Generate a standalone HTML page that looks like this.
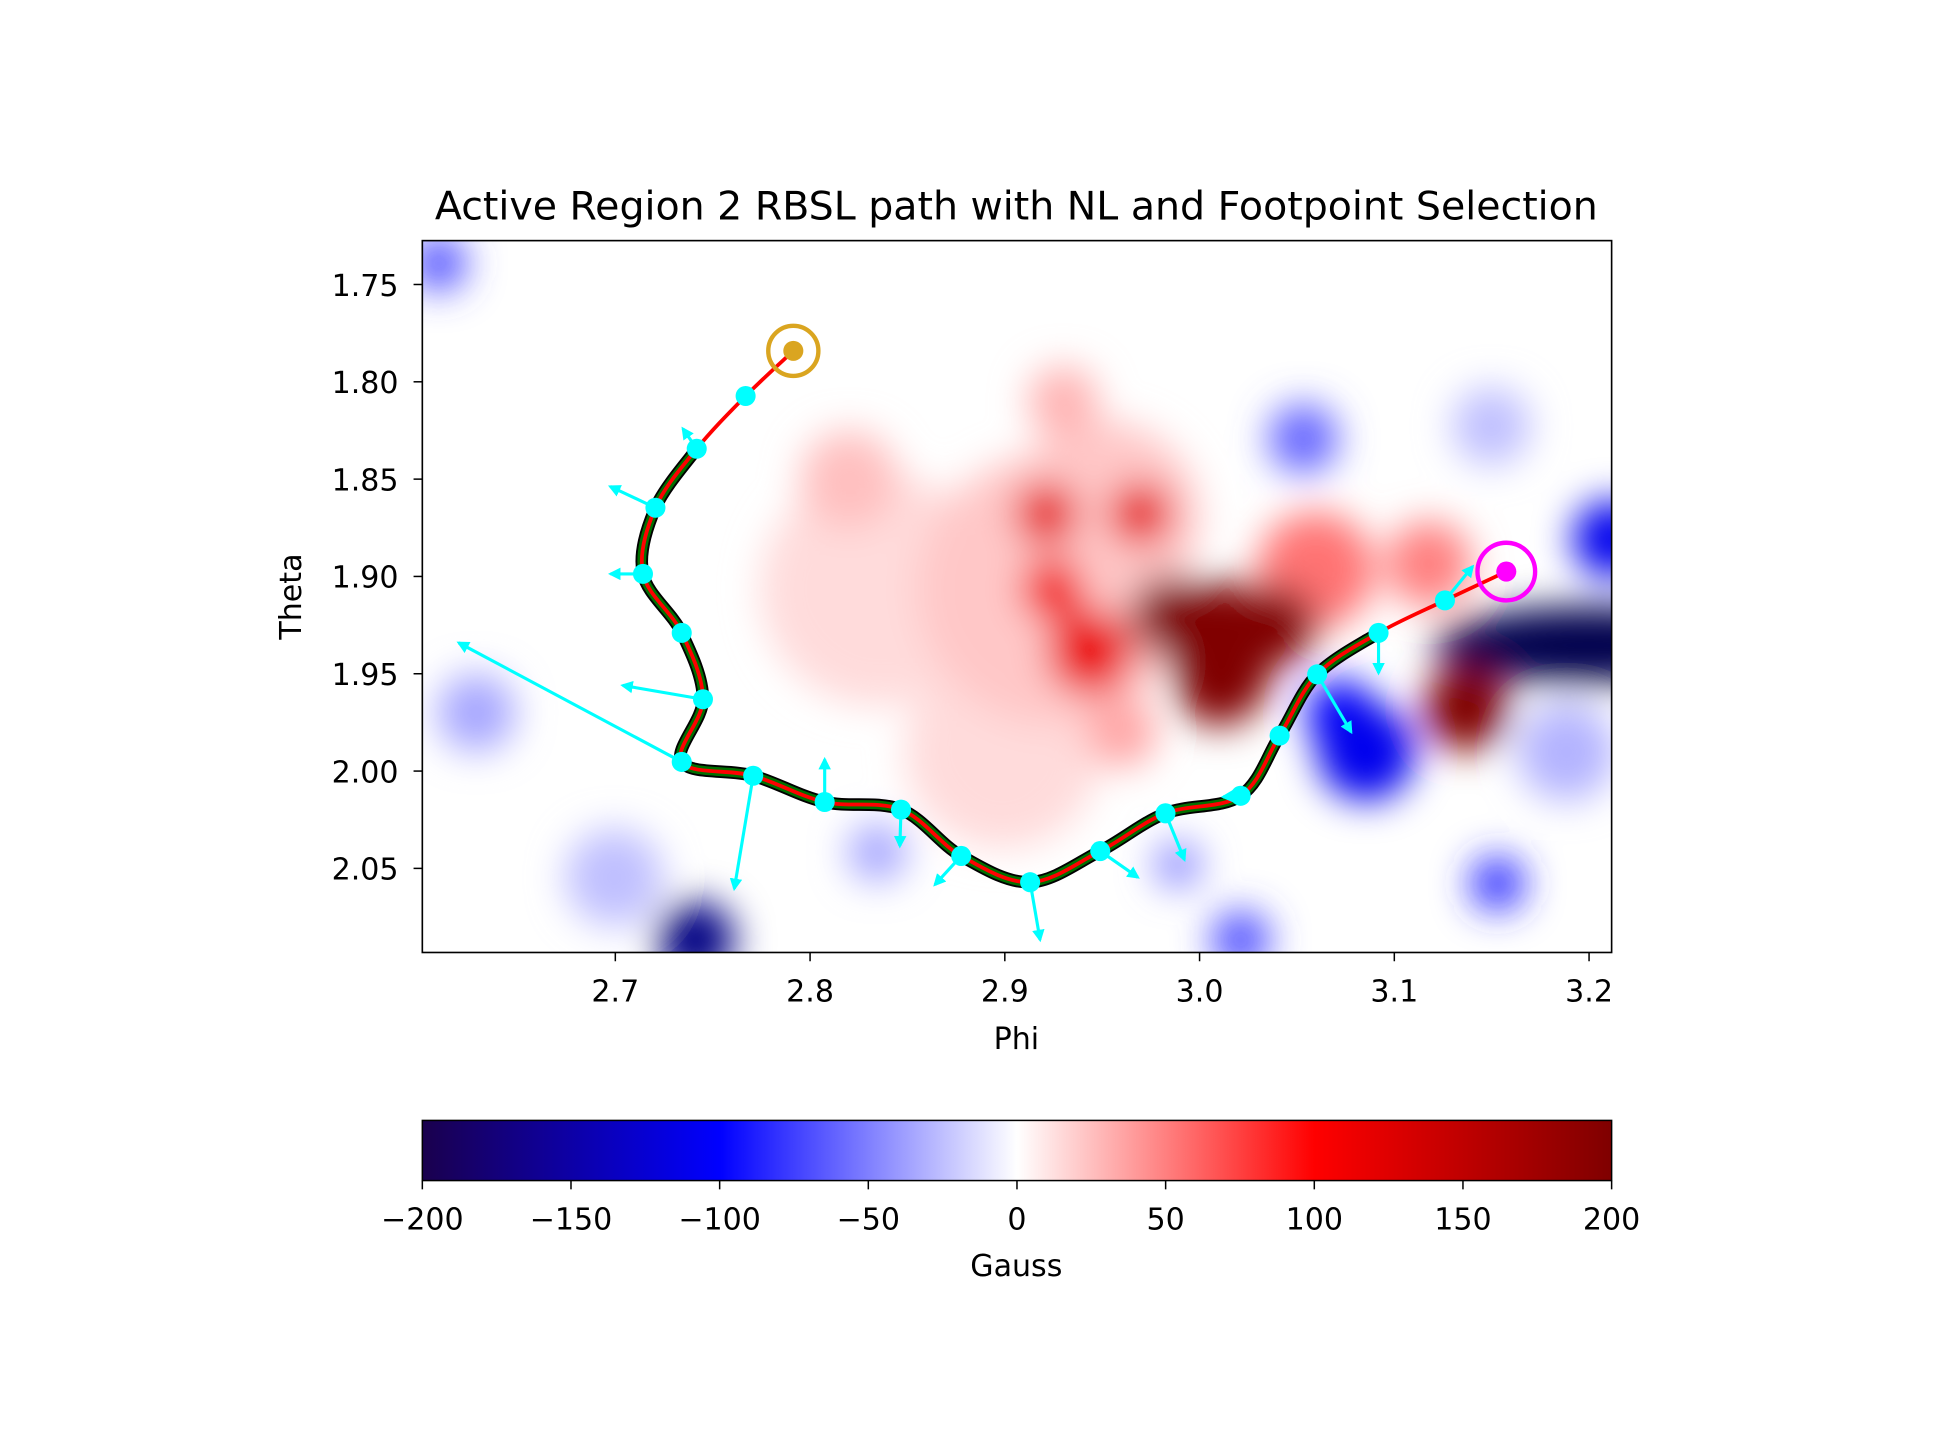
<!DOCTYPE html>
<html><head><meta charset="utf-8"><style>
html,body{margin:0;padding:0;background:#fff;}
svg{display:block;font-family:"DejaVu Sans","Liberation Sans",sans-serif;}
</style></head><body>
<svg id="fig" width="1955" height="1440" viewBox="0 0 1560 1149" preserveAspectRatio="none" xmlns="http://www.w3.org/2000/svg">
<defs>
<filter id="blur" x="-50%" y="-50%" width="200%" height="200%"><feGaussianBlur stdDeviation="15"/></filter>
<clipPath id="axclip"><rect x="337" y="192" width="949" height="568"/></clipPath>
<linearGradient id="cbgrad" x1="0" x2="1" y1="0" y2="0">
<stop offset="0" stop-color="#1a004d"/><stop offset="0.25" stop-color="#0000ff"/>
<stop offset="0.5" stop-color="#ffffff"/><stop offset="0.75" stop-color="#ff0000"/><stop offset="1" stop-color="#7f0000"/>
</linearGradient>
<marker id="ah" viewBox="0 0 10 10" refX="8" refY="5" markerWidth="4" markerHeight="4" orient="auto"><path d="M0,0 L10,5 L0,10 z" fill="#00ffff"/></marker>
</defs>
<rect width="1560" height="1149" fill="#fff"/>
<g id="heat" clip-path="url(#axclip)"><rect x="337" y="192" width="949" height="568" fill="#fff"/><g id="blobs" filter="url(#blur)"></g></g>
<g id="paths" clip-path="url(#axclip)"></g>
<rect x="337" y="192" width="949" height="568" fill="none" stroke="#000" stroke-width="1.3"/>
<g id="ticks"></g>
<text x="811" y="175" font-size="31.5" text-anchor="middle">Active Region 2 RBSL path with NL and Footpoint Selection</text>
<text x="811" y="837" font-size="24" text-anchor="middle">Phi</text>
<text x="240" y="476" font-size="24" text-anchor="middle" transform="rotate(-90 240 476)">Theta</text>
<rect x="337" y="894" width="949" height="48" fill="url(#cbgrad)" stroke="#000" stroke-width="1.2"/>
<g id="cbticks"></g>
<text x="811" y="1018" font-size="24" text-anchor="middle">Gauss</text>
</svg>
<script>
const NS="http://www.w3.org/2000/svg";
// data
const pathPhi=[2.7914,2.7669,2.7418,2.7206,2.7142,2.7341,2.7450,2.7341,2.7708,2.8075,2.8467,2.8776,2.9130,2.9490,2.9825,3.0211,3.0411,3.0604,3.0919,3.1260,3.1575];
const pathTheta=[1.7841,1.8073,1.8344,1.8647,1.8987,1.9290,1.9631,1.9953,2.0024,2.0159,2.0198,2.0436,2.0571,2.0411,2.0217,2.0127,1.9818,1.9503,1.9290,1.9123,1.8975];
const arrowU=[0,-7.1,-23.2,-16.7,0,-41.2,-114.5,-9.7,0,-0.6,-13.5,5.1,19.3,9.7,-9.0,0,17.4,0,14.2]; // x1e-3
const arrowV=[0,-10.3,-10.9,0,0,-7.1,-61.2,58.0,-21.9,18.7,14.8,29.6,13.5,23.8,0.6,0,29.6,20.6,-17.4];
const blobPhi=[2.8345,2.9246,2.8988,2.95,3.0115,3.0115,2.9214,2.9696,2.9246,2.9439,3.0597,3.1176,2.82,2.93,3.1369,3.2000,3.2116,3.0855,3.0726,3.0533,3.1530,2.7412,2.6286,2.6093,2.6994,3.0211,2.9889,2.8345,3.1884,3.1498,2.96,2.9850,3.0400,3.0100];
const blobTheta=[1.9065,1.9065,1.9900,1.8700,1.9322,1.9500,1.8678,1.8678,1.9065,1.9387,1.8968,1.8936,1.8500,1.8100,1.9676,1.9354,1.8807,1.9902,1.9709,1.8292,2.0578,2.0868,1.9700,1.7391,2.0546,2.0868,2.0481,2.0417,1.9902,1.8228,1.9800,1.9200,1.9250,1.9550];
const blobVal=[14,22,14,22,240,230,120,120,110,115,55,50,25,30,210,-240,-110,-110,-100,-60,-80,-170,-35,-70,-25,-70,-45,-35,-30,-25,35,220,220,230];
const blobR=[0.06,0.07,0.05,0.05,0.03,0.025,0.016,0.016,0.016,0.022,0.03,0.022,0.025,0.018,0.022,0.02,0.02,0.025,0.018,0.018,0.014,0.02,0.02,0.014,0.025,0.015,0.012,0.015,0.025,0.02,0.018,0.02,0.02,0.022];
const xTicks=[2.7,2.8,2.9,3.0,3.1,3.2];
const yTicks=[1.75,1.80,1.85,1.90,1.95,2.00,2.05];
const cbTicks=[-200,-150,-100,-50,0,50,100,150,200];
// axes
const X=p=>491+(p-2.7)*1554;
const Y=t=>227+(t-1.75)*1553;
const CB=v=>337+(v+200)/400*949;
function cmap(v){let t=Math.max(-1,Math.min(1,v/200));let r,g,b;
 if(t<-0.5){const f=(t+1)/0.5;r=0;g=0;b=0.3+0.7*f;}
 else if(t<0){const f=(t+0.5)/0.5;r=f;g=f;b=1;}
 else if(t<0.5){const f=t/0.5;r=1;g=1-f;b=1-f;}
 else{const f=(t-0.5)/0.5;r=1-0.5*f;g=0;b=0;}
 return `rgb(${Math.round(r*255)},${Math.round(g*255)},${Math.round(b*255)})`;}
function el(tag,attrs,parent){const e=document.createElementNS(NS,tag);for(const k in attrs)e.setAttribute(k,attrs[k]);parent.appendChild(e);return e;}
const blobs=document.getElementById('blobs');
const order=blobVal.map((v,i)=>i).sort((a,b)=>Math.abs(blobVal[a])-Math.abs(blobVal[b]));
order.splice(order.indexOf(14),1);order.push(14);
order.forEach(i=>{const c=el('ellipse',{cx:X(blobPhi[i]),cy:Y(blobTheta[i]),rx:blobR[i]*1554*(i===15?4:1),ry:blobR[i]*1553,fill:cmap(blobVal[i])},blobs);
 
 });
// smooth path
function smooth(idx){const pts=idx.map(i=>[X(pathPhi[i]),Y(pathTheta[i])]);let d=`M${pts[0][0]},${pts[0][1]}`;
 for(let i=0;i<pts.length-1;i++){const p0=pts[Math.max(0,i-1)],p1=pts[i],p2=pts[i+1],p3=pts[Math.min(pts.length-1,i+2)];
  d+=` C${p1[0]+(p2[0]-p0[0])/6},${p1[1]+(p2[1]-p0[1])/6} ${p2[0]-(p3[0]-p1[0])/6},${p2[1]-(p3[1]-p1[1])/6} ${p2[0]},${p2[1]}`;}return d;}
const g=document.getElementById('paths');
const all=pathPhi.map((v,i)=>i);
const nl=all.slice(2,19);
const nlD=smooth(nl);
let p=el('path',{d:nlD,fill:'none',stroke:'#000',"stroke-width":10,"stroke-linecap":"butt"},g);

p=el('path',{d:nlD,fill:'none',stroke:'#007000',"stroke-width":7},g);

p=el('path',{d:smooth(all),fill:'none',stroke:'#ff0000',"stroke-width":3},g);

// arrows
for(let i=1;i<pathPhi.length-1;i++){const k=i-1;const u=arrowU[k]/1000,v=arrowV[k]/1000;if(u===0&&v===0)continue;
 const a=el('line',{x1:X(pathPhi[i]),y1:Y(pathTheta[i]),x2:X(pathPhi[i]+u),y2:Y(pathTheta[i]+v),stroke:'#00ffff',"stroke-width":2.5,"marker-end":"url(#ah)"},g);
 }
for(let i=1;i<pathPhi.length-1;i++){const c=el('circle',{cx:X(pathPhi[i]),cy:Y(pathTheta[i]),r:8,fill:'#00ffff'},g);
 }
const n=pathPhi.length-1;
let c=el('circle',{cx:X(pathPhi[0]),cy:Y(pathTheta[0]),r:20,fill:'none',stroke:'#daa520',"stroke-width":3.5},g);

c=el('circle',{cx:X(pathPhi[0]),cy:Y(pathTheta[0]),r:8,fill:'#daa520'},g);

c=el('circle',{cx:X(pathPhi[n]),cy:Y(pathTheta[n]),r:23,fill:'none',stroke:'#ff00ff',"stroke-width":3.5},g);

c=el('circle',{cx:X(pathPhi[n]),cy:Y(pathTheta[n]),r:8,fill:'#ff00ff'},g);

// ticks
const tg=document.getElementById('ticks');
xTicks.forEach(t=>{const x=X(t);el('line',{x1:x,x2:x,y1:760,y2:767,stroke:'#000',"stroke-width":1.2},tg);
 const tx=el('text',{x:x,y:799,"font-size":24,"text-anchor":"middle"},tg);tx.textContent=t.toFixed(1);
 });
yTicks.forEach(t=>{const y=Y(t);el('line',{x1:330,x2:337,y1:y,y2:y,stroke:'#000',"stroke-width":1.2},tg);
 const tx=el('text',{x:318,y:y+9,"font-size":24,"text-anchor":"end"},tg);tx.textContent=t.toFixed(2);
 });
const cg=document.getElementById('cbticks');
cbTicks.forEach(t=>{const x=CB(t);el('line',{x1:x,x2:x,y1:942,y2:949,stroke:'#000',"stroke-width":1.2},cg);
 const tx=el('text',{x:x,y:981,"font-size":24,"text-anchor":"middle"},cg);tx.textContent=(t<0?'\u2212'+(-t):''+t);
 });
</script>
</body></html>
